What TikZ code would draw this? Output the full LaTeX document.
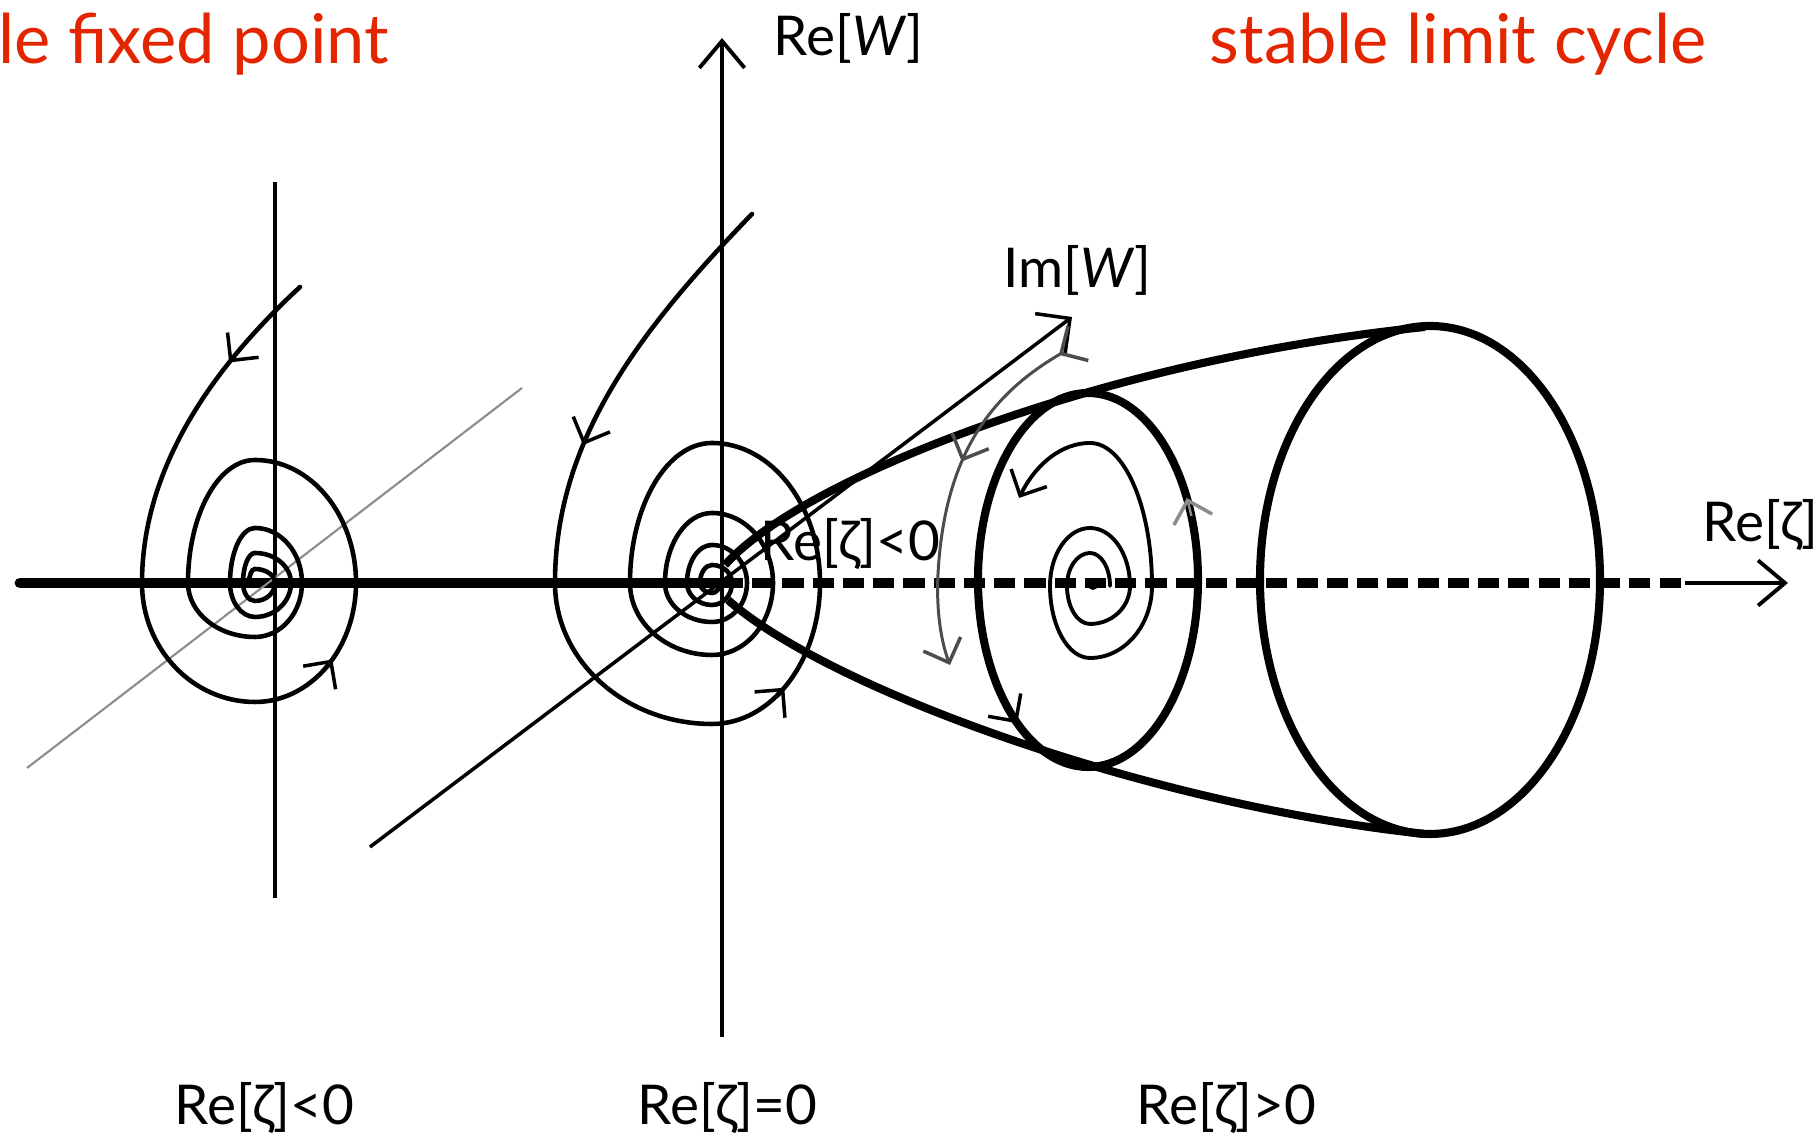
\documentclass[tikz,border=0pt]{standalone}
\usepackage{fontspec}
\setmainfont{Lato}
\usetikzlibrary{arrows.meta,decorations.markings}
\definecolor{slidered}{RGB}{228,38,0}
\tikzset{
  axisline/.style={line width=1.15pt},
  mainaxis/.style={line width=3.1pt, line cap=round},
  dashaxis/.style={line width=2.6pt, dash pattern=on 6pt off 2.6pt},
  imaxis/.style={line width=1pt},
  faintaxis/.style={line width=0.6pt, black!45},
  traj/.style={line width=1.3pt, line cap=round},
  thintraj/.style={line width=1.1pt, line cap=round},
  ring/.style={line width=2.3pt},
  turnarc/.style={line width=0.85pt, black!70},
  axistip/.style={-{Straight Barb[angle=80:10pt, line width=1.1pt]}},
  imtip/.style={-{Straight Barb[angle=90:10pt, line width=1pt]}},
  flowtip/.style={-{Straight Barb[angle=90:8pt, line width=1pt]}},
  midtip/.style={postaction={decorate, decoration={markings,
      mark=at position #1 with {\arrow{Straight Barb[angle=90:8pt, line width=1pt]}}}}},
  axislabel/.style={font=\fontsize{15.6}{18}\selectfont, inner sep=0pt},
  slidetitle/.style={font=\fontsize{19.5}{23}\selectfont, text=slidered, inner sep=0pt}
}

\begin{document}
\begin{tikzpicture}[x=0.01cm, y=0.01cm]
  \useasboundingbox (0,0) rectangle (1817,1134);

  % axes
  \coordinate (leftend) at (20,551);
  \coordinate (origin) at (722,551);
  \coordinate (dashend) at (1685,551);
  \coordinate (rezend) at (1788,551);
  \coordinate (rewbottom) at (722,97);
  \coordinate (rewtop) at (722,1096);
  \coordinate (imwtail) at (370,287);
  \coordinate (imwtip) at (1072,817);
  \draw[mainaxis] (leftend) -- (origin);
  \draw[dashaxis] (origin) -- (dashend);
  \draw[axisline, axistip] (dashend) -- (rezend);
  \draw[axisline, axistip] (rewbottom) -- (rewtop);
  \draw[imaxis, imtip] (imwtail) -- (imwtip);

  % Re<0 : stable fixed point
  \coordinate (leftcenter) at (255,551);
  \draw[axisline] (275,236) -- (275,952);
  \draw[faintaxis] (27,366) -- (522,746);
  \draw[traj, midtip=0.3] (300,847) .. controls (210,764) and (142,664) .. (142,551);
  \draw[traj] (142,551)
    \foreach \a/\rx/\ry in {180/113/119, 270/101/119, 360/101/123, 450/67/123, 540/67/54,
      630/47/54, 720/47/55, 810/25/55, 900/25/34, 990/36/34, 1080/36/30, 1170/12/30,
      1260/12/18, 1350/20/18, 1440/20/14, 1530/6/14}
    {arc[start angle=\a, end angle=\a+90, x radius=\rx, y radius=\ry]};
  \draw[traj, flowtip] (leftcenter) ++(315:101 and 119) arc[start angle=315, end angle=320, x radius=101, y radius=119];

  % Re=0
  \coordinate (midcenter) at (712,551);
  \draw[traj, midtip=0.67] (752,920) .. controls (640,804) and (555,694) .. (555,551);
  \draw[traj] (555,551)
    \foreach \a/\rx/\ry in {180/157/141, 270/108/141, 360/108/140, 450/82/140, 540/82/72,
      630/61/72, 720/61/70, 810/47/70, 900/47/39, 990/35/39, 1080/35/38, 1170/25/38,
      1260/25/22, 1350/20/22, 1440/20/18, 1530/12/18, 1620/12/10, 1710/8/10}
    {arc[start angle=\a, end angle=\a+90, x radius=\rx, y radius=\ry]};
  \draw[traj, flowtip] (midcenter) ++(307:108 and 141) arc[start angle=307, end angle=312, x radius=108, y radius=141];

  % Re>0 : limit cycle
  \coordinate (ringcenter) at (1088,554);
  \coordinate (bigcenter) at (1430,554);
  \coordinate (spiralcenter) at (1090,548);
  \draw[ring] (725,569) .. controls (800,654) and (1100,774) .. (1425,807);
  \draw[ring] (728,534) .. controls (830,444) and (1150,329) .. (1425,300);
  \draw[ring] (ringcenter) ellipse[x radius=110, y radius=187];
  \draw[ring] (bigcenter) ellipse[x radius=170, y radius=254];
  \draw[line width=0.9pt, flowtip] (ringcenter) ++(225:110 and 187) arc[start angle=225, end angle=230, x radius=110, y radius=187];
  \draw[line width=0.7pt, black!45, flowtip] (ringcenter) ++(20:110 and 187) arc[start angle=20, end angle=26, x radius=110, y radius=187];
  \fill (1093,549) circle[radius=5];
  \draw[thintraj, flowtip] (1110,548)
    \foreach \a/\rx/\ry in {0/20/33, 90/23/33, 180/23/38, 270/40/38, 360/40/58,
      450/40/58, 540/40/72, 630/62/72, 720/62/143}
    {arc[start angle=\a, end angle=\a+90, x radius=\rx, y radius=\ry]}
    arc[start angle=810, end angle=862, x radius=90, y radius=143];
  \draw[turnarc, flowtip, midtip=0.01, midtip=0.42] (1062,781) .. controls (1000,745) and (945,690) .. (938,560)
    .. controls (936,520) and (942,490) .. (950,469);

  % labels
  \node[slidetitle, anchor=base west] (fixedtitle) at (-2,1070) {le fixed point};
  \node[slidetitle, anchor=base west] (cycletitle) at (1209,1070) {stable limit cycle};
  \node[axislabel, anchor=base west] (rewlabel) at (773,1078) {Re[\textit{W}]};
  \node[axislabel, anchor=base west] (imwlabel) at (1003,846) {Im[\textit{W}]};
  \node[axislabel, anchor=base west] (rezlabel) at (1702,592) {Re[ζ]};
  \node[axislabel, anchor=base west] (originlabel) at (760,573) {Re[ζ]<0};
  \node[axislabel, anchor=base west] (negcase) at (174,9) {Re[ζ]<0};
  \node[axislabel, anchor=base west] (zerocase) at (637,9) {Re[ζ]=0};
  \node[axislabel, anchor=base west] (poscase) at (1136,9) {Re[ζ]>0};
\end{tikzpicture}
\end{document}
